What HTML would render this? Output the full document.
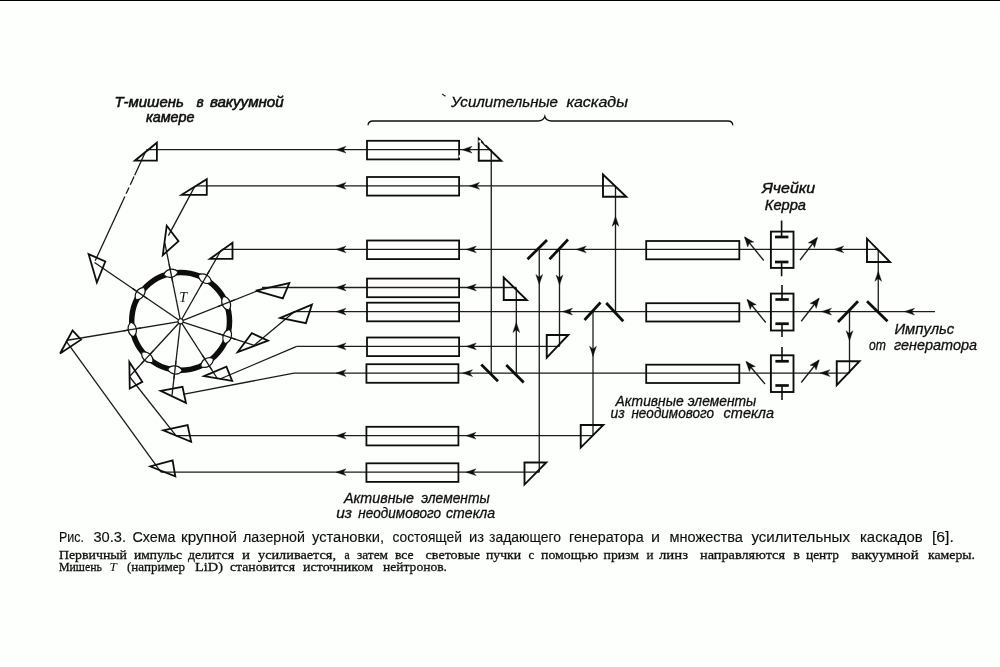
<!DOCTYPE html>
<html lang="ru"><head><meta charset="utf-8"><title>Рис. 30.3</title>
<style>
html,body{margin:0;padding:0;background:#fdfffd;}
body{width:1000px;height:667px;overflow:hidden;position:relative;font-family:"Liberation Serif",serif;}
svg{position:absolute;left:0;top:0;display:block}
</style></head><body>
<svg width="1000" height="667" viewBox="0 0 1000 667">
<rect x="0" y="0" width="1000" height="667" fill="#fdfffd"/>
<rect x="0" y="0" width="1000" height="1" fill="#000"/>
<defs><filter id="soft" x="0" y="0" width="1000" height="667" filterUnits="userSpaceOnUse"><feGaussianBlur stdDeviation="0.42"/></filter></defs>
<g filter="url(#soft)">
<g id="beams" stroke-linecap="butt">
<line x1="146.30" y1="149.70" x2="491.25" y2="149.70" stroke="#1a1a1a" stroke-width="1.3" />
<line x1="196.00" y1="185.90" x2="615.50" y2="185.90" stroke="#1a1a1a" stroke-width="1.3" />
<line x1="221.70" y1="249.40" x2="878.25" y2="249.40" stroke="#1a1a1a" stroke-width="1.3" />
<line x1="262.00" y1="287.50" x2="516.30" y2="287.50" stroke="#1a1a1a" stroke-width="1.3" />
<line x1="294.30" y1="311.60" x2="935.00" y2="311.60" stroke="#1a1a1a" stroke-width="1.3" />
<line x1="296.70" y1="346.40" x2="559.50" y2="346.40" stroke="#1a1a1a" stroke-width="1.3" />
<line x1="294.00" y1="373.10" x2="849.50" y2="373.10" stroke="#1a1a1a" stroke-width="1.3" />
<line x1="176.00" y1="435.70" x2="593.00" y2="435.70" stroke="#1a1a1a" stroke-width="1.3" />
<line x1="161.00" y1="472.20" x2="539.25" y2="472.20" stroke="#1a1a1a" stroke-width="1.3" />
<line x1="491.25" y1="149.70" x2="491.25" y2="373.10" stroke="#1a1a1a" stroke-width="1.3" />
<line x1="516.30" y1="287.50" x2="516.30" y2="373.10" stroke="#1a1a1a" stroke-width="1.3" />
<line x1="539.25" y1="249.40" x2="539.25" y2="472.20" stroke="#1a1a1a" stroke-width="1.3" />
<line x1="559.50" y1="249.40" x2="559.50" y2="346.40" stroke="#1a1a1a" stroke-width="1.3" />
<line x1="593.00" y1="311.60" x2="593.00" y2="435.70" stroke="#1a1a1a" stroke-width="1.3" />
<line x1="615.50" y1="185.90" x2="615.50" y2="311.60" stroke="#1a1a1a" stroke-width="1.3" />
<line x1="878.25" y1="249.40" x2="878.25" y2="311.60" stroke="#1a1a1a" stroke-width="1.3" />
<line x1="849.50" y1="311.60" x2="849.50" y2="373.10" stroke="#1a1a1a" stroke-width="1.3" />
</g>
<g id="rays">
<path d="M145.6 151.6 L95.2 260.8" stroke="#1a1a1a" stroke-width="1.3" fill="none" stroke-dasharray="26 1.5 9 3 7 3 100"/>
<line x1="94.50" y1="262.50" x2="180.60" y2="321.30" stroke="#1a1a1a" stroke-width="1.3" />
<line x1="194.80" y1="186.40" x2="168.40" y2="235.60" stroke="#1a1a1a" stroke-width="1.3" />
<line x1="164.80" y1="242.80" x2="180.60" y2="321.30" stroke="#1a1a1a" stroke-width="1.3" />
<line x1="221.20" y1="250.00" x2="180.60" y2="321.30" stroke="#1a1a1a" stroke-width="1.3" />
<line x1="262.00" y1="289.00" x2="180.60" y2="321.30" stroke="#1a1a1a" stroke-width="1.3" />
<line x1="294.30" y1="311.80" x2="254.20" y2="345.30" stroke="#1a1a1a" stroke-width="1.3" />
<line x1="254.20" y1="345.30" x2="180.60" y2="321.30" stroke="#1a1a1a" stroke-width="1.3" />
<line x1="296.70" y1="346.40" x2="220.00" y2="379.00" stroke="#1a1a1a" stroke-width="1.3" />
<line x1="217.00" y1="378.00" x2="180.60" y2="321.30" stroke="#1a1a1a" stroke-width="1.3" />
<line x1="294.00" y1="373.10" x2="183.00" y2="394.30" stroke="#1a1a1a" stroke-width="1.3" />
<line x1="172.00" y1="395.40" x2="180.60" y2="321.30" stroke="#1a1a1a" stroke-width="1.3" />
<line x1="176.00" y1="435.70" x2="129.80" y2="377.00" stroke="#1a1a1a" stroke-width="1.3" />
<line x1="129.80" y1="376.20" x2="180.60" y2="321.30" stroke="#1a1a1a" stroke-width="1.3" />
<line x1="161.00" y1="472.20" x2="66.00" y2="340.90" stroke="#1a1a1a" stroke-width="1.3" />
<line x1="66.00" y1="340.50" x2="180.60" y2="321.30" stroke="#1a1a1a" stroke-width="1.3" />
</g>
<g id="ring">
<circle cx="180.6" cy="321.3" r="48.9" fill="none" stroke="#111" stroke-width="5.5"/>
<g transform="translate(140.14 293.67) rotate(-55.67)"><path d="M-7.4 0 C-4.2 -5.4 4.2 -5.4 7.4 0 C4.2 5.4 -4.2 5.4 -7.4 0 Z" fill="#fdfffd" stroke="#111" stroke-width="1.2"/></g>
<g transform="translate(170.93 273.26) rotate(-11.38)"><path d="M-7.4 0 C-4.2 -5.4 4.2 -5.4 7.4 0 C4.2 5.4 -4.2 5.4 -7.4 0 Z" fill="#fdfffd" stroke="#111" stroke-width="1.2"/></g>
<g transform="translate(204.85 278.72) rotate(29.66)"><path d="M-7.4 0 C-4.2 -5.4 4.2 -5.4 7.4 0 C4.2 5.4 -4.2 5.4 -7.4 0 Z" fill="#fdfffd" stroke="#111" stroke-width="1.2"/></g>
<g transform="translate(226.15 303.23) rotate(68.36)"><path d="M-7.4 0 C-4.2 -5.4 4.2 -5.4 7.4 0 C4.2 5.4 -4.2 5.4 -7.4 0 Z" fill="#fdfffd" stroke="#111" stroke-width="1.2"/></g>
<g transform="translate(227.19 336.49) rotate(108.06)"><path d="M-7.4 0 C-4.2 -5.4 4.2 -5.4 7.4 0 C4.2 5.4 -4.2 5.4 -7.4 0 Z" fill="#fdfffd" stroke="#111" stroke-width="1.2"/></g>
<g transform="translate(207.07 362.53) rotate(147.30)"><path d="M-7.4 0 C-4.2 -5.4 4.2 -5.4 7.4 0 C4.2 5.4 -4.2 5.4 -7.4 0 Z" fill="#fdfffd" stroke="#111" stroke-width="1.2"/></g>
<g transform="translate(174.95 369.97) rotate(186.62)"><path d="M-7.4 0 C-4.2 -5.4 4.2 -5.4 7.4 0 C4.2 5.4 -4.2 5.4 -7.4 0 Z" fill="#fdfffd" stroke="#111" stroke-width="1.2"/></g>
<g transform="translate(147.32 357.27) rotate(222.78)"><path d="M-7.4 0 C-4.2 -5.4 4.2 -5.4 7.4 0 C4.2 5.4 -4.2 5.4 -7.4 0 Z" fill="#fdfffd" stroke="#111" stroke-width="1.2"/></g>
<g transform="translate(132.27 329.40) rotate(260.49)"><path d="M-7.4 0 C-4.2 -5.4 4.2 -5.4 7.4 0 C4.2 5.4 -4.2 5.4 -7.4 0 Z" fill="#fdfffd" stroke="#111" stroke-width="1.2"/></g>
</g>
<g id="rays2">
<line x1="147.57" y1="298.74" x2="132.70" y2="288.59" stroke="#1a1a1a" stroke-width="1.3" />
<line x1="172.71" y1="282.09" x2="169.16" y2="264.44" stroke="#1a1a1a" stroke-width="1.3" />
<line x1="200.39" y1="286.54" x2="209.30" y2="270.90" stroke="#1a1a1a" stroke-width="1.3" />
<line x1="217.78" y1="306.55" x2="234.51" y2="299.91" stroke="#1a1a1a" stroke-width="1.3" />
<line x1="218.63" y1="333.70" x2="235.74" y2="339.28" stroke="#1a1a1a" stroke-width="1.3" />
<line x1="202.21" y1="354.96" x2="211.93" y2="370.11" stroke="#1a1a1a" stroke-width="1.3" />
<line x1="175.99" y1="361.03" x2="173.91" y2="378.91" stroke="#1a1a1a" stroke-width="1.3" />
<line x1="153.43" y1="350.66" x2="141.21" y2="363.87" stroke="#1a1a1a" stroke-width="1.3" />
<line x1="141.15" y1="327.91" x2="123.40" y2="330.88" stroke="#1a1a1a" stroke-width="1.3" />
</g>
<circle cx="180.6" cy="321.3" r="2.6" fill="#fdfffd" stroke="#111" stroke-width="1.1"/>
<g id="prismsL">
<polygon points="156.90,142.70 156.90,160.70 134.80,160.70" fill="none" stroke="#111" stroke-width="1.8" stroke-linejoin="miter"/>
<polygon points="206.80,179.20 206.80,194.80 181.60,194.80" fill="none" stroke="#111" stroke-width="1.8" stroke-linejoin="miter"/>
<polygon points="166.73,225.75 178.50,241.10 162.79,255.20" fill="none" stroke="#111" stroke-width="1.8" stroke-linejoin="miter"/>
<polygon points="232.50,242.80 232.50,258.90 209.90,258.90" fill="none" stroke="#111" stroke-width="1.8" stroke-linejoin="miter"/>
<polygon points="88.60,254.09 105.30,261.50 96.85,282.49" fill="none" stroke="#111" stroke-width="1.8" stroke-linejoin="miter"/>
<polygon points="255.85,290.73 289.33,283.00 282.80,298.40" fill="none" stroke="#111" stroke-width="1.8" stroke-linejoin="miter"/>
<polygon points="280.28,317.84 311.93,304.64 305.90,323.10" fill="none" stroke="#111" stroke-width="1.8" stroke-linejoin="miter"/>
<polygon points="237.72,352.04 251.80,333.20 268.01,340.70" fill="none" stroke="#111" stroke-width="1.8" stroke-linejoin="miter"/>
<polygon points="204.10,376.13 226.40,366.60 232.15,380.89" fill="none" stroke="#111" stroke-width="1.8" stroke-linejoin="miter"/>
<polygon points="160.68,390.78 182.50,386.80 185.95,402.83" fill="none" stroke="#111" stroke-width="1.8" stroke-linejoin="miter"/>
<polygon points="129.35,361.91 142.30,381.80 129.76,388.44" fill="none" stroke="#111" stroke-width="1.8" stroke-linejoin="miter"/>
<polygon points="72.51,330.48 81.00,339.70 60.10,353.54" fill="none" stroke="#111" stroke-width="1.8" stroke-linejoin="miter"/>
<polygon points="163.17,430.34 187.60,425.00 191.15,441.83" fill="none" stroke="#111" stroke-width="1.8" stroke-linejoin="miter"/>
<polygon points="150.36,466.48 172.60,460.30 175.30,476.32" fill="none" stroke="#111" stroke-width="1.8" stroke-linejoin="miter"/>
</g>
<g id="rects">
<rect x="367.00" y="140.80" width="92.10" height="18.60" fill="none" stroke="#111" stroke-width="1.8"/>
<rect x="367.00" y="177.00" width="92.10" height="18.60" fill="none" stroke="#111" stroke-width="1.8"/>
<rect x="367.00" y="240.50" width="92.10" height="18.60" fill="none" stroke="#111" stroke-width="1.8"/>
<rect x="367.00" y="278.60" width="92.10" height="18.60" fill="none" stroke="#111" stroke-width="1.8"/>
<rect x="367.00" y="302.70" width="92.10" height="18.60" fill="none" stroke="#111" stroke-width="1.8"/>
<rect x="367.00" y="337.50" width="92.10" height="18.60" fill="none" stroke="#111" stroke-width="1.8"/>
<rect x="366.40" y="364.20" width="92.00" height="18.60" fill="none" stroke="#111" stroke-width="1.8"/>
<rect x="366.40" y="426.80" width="92.00" height="18.60" fill="none" stroke="#111" stroke-width="1.8"/>
<rect x="366.40" y="463.30" width="92.00" height="18.60" fill="none" stroke="#111" stroke-width="1.8"/>
<rect x="646.20" y="241.00" width="93.10" height="18.30" fill="none" stroke="#111" stroke-width="1.8"/>
<rect x="646.20" y="303.20" width="93.10" height="18.30" fill="none" stroke="#111" stroke-width="1.8"/>
<rect x="646.20" y="364.70" width="93.10" height="18.30" fill="none" stroke="#111" stroke-width="1.8"/>
</g>
<g id="prismsR">
<polygon points="478.75,138.70 478.75,160.75 501.30,160.75" fill="none" stroke="#111" stroke-width="1.9" stroke-linejoin="miter"/>
<polygon points="503.75,277.45 503.75,300.00 526.80,300.00" fill="none" stroke="#111" stroke-width="1.9" stroke-linejoin="miter"/>
<polygon points="603.00,174.45 603.00,196.75 626.30,196.75" fill="none" stroke="#111" stroke-width="1.9" stroke-linejoin="miter"/>
<polygon points="546.75,335.00 568.30,335.00 546.75,357.55" fill="none" stroke="#111" stroke-width="1.9" stroke-linejoin="miter"/>
<polygon points="580.75,425.00 603.30,425.00 580.75,447.55" fill="none" stroke="#111" stroke-width="1.9" stroke-linejoin="miter"/>
<polygon points="524.50,462.50 546.30,462.50 524.50,484.55" fill="none" stroke="#111" stroke-width="1.9" stroke-linejoin="miter"/>
<polygon points="867.00,238.70 867.00,262.00 890.05,262.00" fill="none" stroke="#111" stroke-width="1.9" stroke-linejoin="miter"/>
<polygon points="836.75,361.25 859.55,361.25 836.75,385.05" fill="none" stroke="#111" stroke-width="1.9" stroke-linejoin="miter"/>
</g>
<g id="mirrors">
<line x1="527.50" y1="259.25" x2="547.00" y2="240.00" stroke="#0a0a0a" stroke-width="2.7" />
<line x1="549.50" y1="259.25" x2="568.00" y2="239.50" stroke="#0a0a0a" stroke-width="2.7" />
<line x1="584.50" y1="320.00" x2="600.50" y2="302.50" stroke="#0a0a0a" stroke-width="2.7" />
<line x1="606.25" y1="303.00" x2="623.25" y2="321.25" stroke="#0a0a0a" stroke-width="2.7" />
<line x1="481.25" y1="364.50" x2="498.00" y2="381.25" stroke="#0a0a0a" stroke-width="2.7" />
<line x1="506.25" y1="365.00" x2="523.75" y2="382.50" stroke="#0a0a0a" stroke-width="2.7" />
<line x1="838.00" y1="322.00" x2="858.00" y2="301.25" stroke="#0a0a0a" stroke-width="2.7" />
<line x1="867.00" y1="301.25" x2="887.50" y2="321.25" stroke="#0a0a0a" stroke-width="2.7" />
</g>
<g id="kerr">
<rect x="770.90" y="231.60" width="22.60" height="36.30" fill="none" stroke="#111" stroke-width="1.9"/>
<line x1="781.60" y1="220.50" x2="781.60" y2="237.00" stroke="#111" stroke-width="1.6" />
<line x1="775.00" y1="237.00" x2="788.40" y2="237.00" stroke="#0a0a0a" stroke-width="2.7" />
<line x1="775.00" y1="262.00" x2="788.40" y2="262.00" stroke="#0a0a0a" stroke-width="2.7" />
<line x1="781.60" y1="262.00" x2="781.60" y2="276.25" stroke="#111" stroke-width="1.6" />
<rect x="770.90" y="293.60" width="22.60" height="36.90" fill="none" stroke="#111" stroke-width="1.9"/>
<line x1="782.00" y1="285.00" x2="782.00" y2="299.50" stroke="#111" stroke-width="1.6" />
<line x1="775.40" y1="299.50" x2="788.80" y2="299.50" stroke="#0a0a0a" stroke-width="2.7" />
<line x1="775.40" y1="323.75" x2="788.80" y2="323.75" stroke="#0a0a0a" stroke-width="2.7" />
<line x1="782.00" y1="323.75" x2="782.00" y2="337.00" stroke="#111" stroke-width="1.6" />
<rect x="770.90" y="355.30" width="22.60" height="36.70" fill="none" stroke="#111" stroke-width="1.9"/>
<line x1="782.00" y1="347.00" x2="782.00" y2="361.25" stroke="#111" stroke-width="1.6" />
<line x1="775.40" y1="361.25" x2="788.80" y2="361.25" stroke="#0a0a0a" stroke-width="2.7" />
<line x1="775.40" y1="385.50" x2="788.80" y2="385.50" stroke="#0a0a0a" stroke-width="2.7" />
<line x1="782.00" y1="385.50" x2="782.00" y2="400.00" stroke="#111" stroke-width="1.6" />
<line x1="763.75" y1="260.50" x2="745.00" y2="237.50" stroke="#1a1a1a" stroke-width="1.3" />
<polygon points="744.44,236.81 747.73,247.03 749.37,242.86 753.78,242.10" fill="#111" stroke="#111" stroke-width="0.4"/>
<line x1="800.00" y1="260.00" x2="817.00" y2="238.00" stroke="#1a1a1a" stroke-width="1.3" />
<polygon points="817.51,237.34 808.31,242.87 812.74,243.51 814.48,247.64" fill="#111" stroke="#111" stroke-width="0.4"/>
<line x1="765.75" y1="322.50" x2="747.50" y2="300.00" stroke="#1a1a1a" stroke-width="1.3" />
<polygon points="746.95,299.32 750.22,309.55 751.87,305.38 756.28,304.63" fill="#111" stroke="#111" stroke-width="0.4"/>
<line x1="801.25" y1="321.25" x2="818.75" y2="298.75" stroke="#1a1a1a" stroke-width="1.3" />
<polygon points="819.27,298.07 810.06,303.57 814.49,304.23 816.21,308.36" fill="#111" stroke="#111" stroke-width="0.4"/>
<line x1="765.00" y1="384.00" x2="746.50" y2="362.00" stroke="#1a1a1a" stroke-width="1.3" />
<polygon points="745.95,361.34 749.40,371.50 750.97,367.31 755.37,366.48" fill="#111" stroke="#111" stroke-width="0.4"/>
<line x1="801.25" y1="382.50" x2="818.75" y2="360.50" stroke="#1a1a1a" stroke-width="1.3" />
<polygon points="819.27,359.84 810.00,365.24 814.42,365.94 816.10,370.09" fill="#111" stroke="#111" stroke-width="0.4"/>
</g>
<g id="arrows">
<polygon points="336.00,149.70 346.00,153.10 343.20,149.70 346.00,146.30" fill="#111" stroke="#111" stroke-width="0.4"/>
<polygon points="336.00,185.90 346.00,189.30 343.20,185.90 346.00,182.50" fill="#111" stroke="#111" stroke-width="0.4"/>
<polygon points="336.00,249.40 346.00,252.80 343.20,249.40 346.00,246.00" fill="#111" stroke="#111" stroke-width="0.4"/>
<polygon points="336.00,287.50 346.00,290.90 343.20,287.50 346.00,284.10" fill="#111" stroke="#111" stroke-width="0.4"/>
<polygon points="336.00,311.60 346.00,315.00 343.20,311.60 346.00,308.20" fill="#111" stroke="#111" stroke-width="0.4"/>
<polygon points="336.00,346.40 346.00,349.80 343.20,346.40 346.00,343.00" fill="#111" stroke="#111" stroke-width="0.4"/>
<polygon points="336.00,373.10 346.00,376.50 343.20,373.10 346.00,369.70" fill="#111" stroke="#111" stroke-width="0.4"/>
<polygon points="336.00,435.70 346.00,439.10 343.20,435.70 346.00,432.30" fill="#111" stroke="#111" stroke-width="0.4"/>
<polygon points="336.00,472.20 346.00,475.60 343.20,472.20 346.00,468.80" fill="#111" stroke="#111" stroke-width="0.4"/>
<polygon points="462.00,149.70 472.00,153.10 469.20,149.70 472.00,146.30" fill="#111" stroke="#111" stroke-width="0.4"/>
<polygon points="469.50,185.90 479.50,189.30 476.70,185.90 479.50,182.50" fill="#111" stroke="#111" stroke-width="0.4"/>
<polygon points="466.25,249.40 476.25,252.80 473.45,249.40 476.25,246.00" fill="#111" stroke="#111" stroke-width="0.4"/>
<polygon points="466.25,287.50 476.25,290.90 473.45,287.50 476.25,284.10" fill="#111" stroke="#111" stroke-width="0.4"/>
<polygon points="466.25,346.40 476.25,349.80 473.45,346.40 476.25,343.00" fill="#111" stroke="#111" stroke-width="0.4"/>
<polygon points="462.50,373.10 472.50,376.50 469.70,373.10 472.50,369.70" fill="#111" stroke="#111" stroke-width="0.4"/>
<polygon points="466.00,435.70 476.00,439.10 473.20,435.70 476.00,432.30" fill="#111" stroke="#111" stroke-width="0.4"/>
<polygon points="466.00,472.20 476.00,475.60 473.20,472.20 476.00,468.80" fill="#111" stroke="#111" stroke-width="0.4"/>
<polygon points="576.25,249.40 586.25,252.80 583.45,249.40 586.25,246.00" fill="#111" stroke="#111" stroke-width="0.4"/>
<polygon points="562.50,311.60 572.50,315.00 569.70,311.60 572.50,308.20" fill="#111" stroke="#111" stroke-width="0.4"/>
<polygon points="833.75,249.40 843.75,252.80 840.95,249.40 843.75,246.00" fill="#111" stroke="#111" stroke-width="0.4"/>
<polygon points="821.50,311.60 831.50,315.00 828.70,311.60 831.50,308.20" fill="#111" stroke="#111" stroke-width="0.4"/>
<polygon points="904.50,311.60 914.50,315.00 911.70,311.60 914.50,308.20" fill="#111" stroke="#111" stroke-width="0.4"/>
<polygon points="820.00,373.10 830.00,376.50 827.20,373.10 830.00,369.70" fill="#111" stroke="#111" stroke-width="0.4"/>
<polygon points="539.25,284.50 542.65,274.50 539.25,277.30 535.85,274.50" fill="#111" stroke="#111" stroke-width="0.4"/>
<polygon points="559.50,285.00 562.90,275.00 559.50,277.80 556.10,275.00" fill="#111" stroke="#111" stroke-width="0.4"/>
<polygon points="516.30,322.50 512.90,332.50 516.30,329.70 519.70,332.50" fill="#111" stroke="#111" stroke-width="0.4"/>
<polygon points="615.50,216.25 612.10,226.25 615.50,223.45 618.90,226.25" fill="#111" stroke="#111" stroke-width="0.4"/>
<polygon points="593.00,356.25 596.40,346.25 593.00,349.05 589.60,346.25" fill="#111" stroke="#111" stroke-width="0.4"/>
<polygon points="878.25,271.25 874.85,281.25 878.25,278.45 881.65,281.25" fill="#111" stroke="#111" stroke-width="0.4"/>
<polygon points="849.50,340.75 852.90,330.75 849.50,333.55 846.10,330.75" fill="#111" stroke="#111" stroke-width="0.4"/>
</g>
<path d="M368 125.3 Q368.3 121 373 121 L538 121 Q543.5 121 544.8 116.4 Q546 121 551.5 121 L728 121 Q732.6 121 732.8 125.3" fill="none" stroke="#111" stroke-width="1.3"/>
<path d="M484.4 141.6 L486.4 144.2 M479.7 140.2 L479.7 142.6 M460 155.2 L460 157.6" stroke="#fdfffd" stroke-width="2.6"/>
<path d="M442 94 l3.6 2.2" stroke="#222" stroke-width="1.2"/>
<g font-family="'Liberation Sans', sans-serif" font-size="14.2" font-style="italic" fill="#111" stroke="#111" stroke-width="0.55">
<text x="114.5" y="107.1" textLength="69.3" lengthAdjust="spacingAndGlyphs">Т-мишень</text>
<text x="196.4" y="107.1" textLength="7.2" lengthAdjust="spacingAndGlyphs">в</text>
<text x="209.9" y="107.1" textLength="73.8" lengthAdjust="spacingAndGlyphs">вакуумной</text>
</g>
<g font-family="'Liberation Sans', sans-serif" font-size="14.2" font-style="italic" fill="#111" stroke="#111" stroke-width="0.55">
<text x="146" y="122" textLength="48.6" lengthAdjust="spacingAndGlyphs">камере</text>
</g>
<g font-family="'Liberation Sans', sans-serif" font-size="13.8" font-style="italic" fill="#111" stroke="#111" stroke-width="0.3">
<text x="451" y="107" textLength="107.0" lengthAdjust="spacingAndGlyphs">Усилительные</text>
<text x="566.4" y="107" textLength="61.6" lengthAdjust="spacingAndGlyphs">каскады</text>
</g>
<g font-family="'Liberation Sans', sans-serif" font-size="13.8" font-style="italic" fill="#111" stroke="#111" stroke-width="0.4">
<text x="762" y="192.6" textLength="53.2" lengthAdjust="spacingAndGlyphs">Ячейки</text>
</g>
<g font-family="'Liberation Sans', sans-serif" font-size="13.8" font-style="italic" fill="#111" stroke="#111" stroke-width="0.4">
<text x="764.8" y="210.2" textLength="41.2" lengthAdjust="spacingAndGlyphs">Керра</text>
</g>
<g font-family="'Liberation Sans', sans-serif" font-size="13.8" font-style="italic" fill="#111" stroke="#111" stroke-width="0.3">
<text x="894.5" y="334" textLength="59.8" lengthAdjust="spacingAndGlyphs">Импульс</text>
</g>
<g font-family="'Liberation Sans', sans-serif" font-size="13.8" font-style="italic" fill="#111" stroke="#111" stroke-width="0.3">
<text x="869.1" y="349.5" textLength="16.9" lengthAdjust="spacingAndGlyphs">от</text>
<text x="894" y="349.5" textLength="83.0" lengthAdjust="spacingAndGlyphs">генератора</text>
</g>
<g font-family="'Liberation Sans', sans-serif" font-size="13.8" font-style="italic" fill="#111" stroke="#111" stroke-width="0.3">
<text x="615.6" y="405.5" textLength="68.1" lengthAdjust="spacingAndGlyphs">Активные</text>
<text x="687.8" y="405.5" textLength="68.5" lengthAdjust="spacingAndGlyphs">элементы</text>
</g>
<g font-family="'Liberation Sans', sans-serif" font-size="13.8" font-style="italic" fill="#111" stroke="#111" stroke-width="0.3">
<text x="610.5" y="417.7" textLength="14.2" lengthAdjust="spacingAndGlyphs">из</text>
<text x="631.4" y="417.7" textLength="82.6" lengthAdjust="spacingAndGlyphs">неодимового</text>
<text x="723.6" y="417.7" textLength="50.4" lengthAdjust="spacingAndGlyphs">стекла</text>
</g>
<g font-family="'Liberation Sans', sans-serif" font-size="13.8" font-style="italic" fill="#111" stroke="#111" stroke-width="0.3">
<text x="343.9" y="502.6" textLength="70.2" lengthAdjust="spacingAndGlyphs">Активные</text>
<text x="421.3" y="502.6" textLength="68.4" lengthAdjust="spacingAndGlyphs">элементы</text>
</g>
<g font-family="'Liberation Sans', sans-serif" font-size="13.8" font-style="italic" fill="#111" stroke="#111" stroke-width="0.3">
<text x="336.2" y="517.8" textLength="15.8" lengthAdjust="spacingAndGlyphs">из</text>
<text x="358.3" y="517.8" textLength="82.8" lengthAdjust="spacingAndGlyphs">неодимового</text>
<text x="446" y="517.8" textLength="49.1" lengthAdjust="spacingAndGlyphs">стекла</text>
</g>
<text x="179.3" y="301.7" font-family="'Liberation Serif', serif" font-size="14" font-style="italic" font-weight="normal" fill="#111" >T</text>
<g font-family="'Liberation Sans', sans-serif" font-size="15.2" fill="#111" stroke="#111" stroke-width="0.15">
<text x="59" y="542.4" textLength="25.0" lengthAdjust="spacingAndGlyphs">Рис.</text>
<text x="93.4" y="542.4" textLength="32.6" lengthAdjust="spacingAndGlyphs">30.3.</text>
<text x="132.4" y="542.4" textLength="43.2" lengthAdjust="spacingAndGlyphs">Схема</text>
<text x="181" y="542.4" textLength="56.0" lengthAdjust="spacingAndGlyphs">крупной</text>
<text x="243" y="542.4" textLength="62.0" lengthAdjust="spacingAndGlyphs">лазерной</text>
<text x="312" y="542.4" textLength="72.0" lengthAdjust="spacingAndGlyphs">установки,</text>
<text x="392.4" y="542.4" textLength="69.6" lengthAdjust="spacingAndGlyphs">состоящей</text>
<text x="469" y="542.4" textLength="15.0" lengthAdjust="spacingAndGlyphs">из</text>
<text x="489" y="542.4" textLength="72.0" lengthAdjust="spacingAndGlyphs">задающего</text>
<text x="569" y="542.4" textLength="74.6" lengthAdjust="spacingAndGlyphs">генератора</text>
<text x="651" y="542.4" textLength="9.0" lengthAdjust="spacingAndGlyphs">и</text>
<text x="669.4" y="542.4" textLength="73.6" lengthAdjust="spacingAndGlyphs">множества</text>
<text x="751.4" y="542.4" textLength="98.6" lengthAdjust="spacingAndGlyphs">усилительных</text>
<text x="860" y="542.4" textLength="62.6" lengthAdjust="spacingAndGlyphs">каскадов</text>
<text x="931.9" y="542.4" textLength="22.0" lengthAdjust="spacingAndGlyphs">[6].</text>
</g>
<g font-family="'Liberation Serif', serif" font-size="13.2" fill="#111" stroke="#111" stroke-width="0.3">
<text x="59" y="559.2" textLength="68.0" lengthAdjust="spacingAndGlyphs">Первичный</text>
<text x="134" y="559.2" textLength="48.0" lengthAdjust="spacingAndGlyphs">импульс</text>
<text x="188" y="559.2" textLength="46.0" lengthAdjust="spacingAndGlyphs">делится</text>
<text x="242" y="559.2" textLength="8.0" lengthAdjust="spacingAndGlyphs">и</text>
<text x="258" y="559.2" textLength="78.0" lengthAdjust="spacingAndGlyphs">усиливается,</text>
<text x="344.4" y="559.2" textLength="5.2" lengthAdjust="spacingAndGlyphs">а</text>
<text x="357" y="559.2" textLength="31.0" lengthAdjust="spacingAndGlyphs">затем</text>
<text x="395" y="559.2" textLength="18.6" lengthAdjust="spacingAndGlyphs">все</text>
<text x="425.6" y="559.2" textLength="54.4" lengthAdjust="spacingAndGlyphs">световые</text>
<text x="486" y="559.2" textLength="35.0" lengthAdjust="spacingAndGlyphs">пучки</text>
<text x="528.4" y="559.2" textLength="5.6" lengthAdjust="spacingAndGlyphs">с</text>
<text x="541" y="559.2" textLength="57.0" lengthAdjust="spacingAndGlyphs">помощью</text>
<text x="603.6" y="559.2" textLength="35.4" lengthAdjust="spacingAndGlyphs">призм</text>
<text x="646.6" y="559.2" textLength="7.0" lengthAdjust="spacingAndGlyphs">и</text>
<text x="659" y="559.2" textLength="29.0" lengthAdjust="spacingAndGlyphs">линз</text>
<text x="700" y="559.2" textLength="85.0" lengthAdjust="spacingAndGlyphs">направляются</text>
<text x="793.6" y="559.2" textLength="6.4" lengthAdjust="spacingAndGlyphs">в</text>
<text x="806" y="559.2" textLength="33.0" lengthAdjust="spacingAndGlyphs">центр</text>
<text x="851.4" y="559.2" textLength="67.2" lengthAdjust="spacingAndGlyphs">вакуумной</text>
<text x="928" y="559.2" textLength="47.0" lengthAdjust="spacingAndGlyphs">камеры.</text>
</g>
<g font-family="'Liberation Serif', serif" font-size="13.2" fill="#111" stroke="#111" stroke-width="0.3">
<text x="59" y="570.8" textLength="43.0" lengthAdjust="spacingAndGlyphs">Мишень</text>
<text x="127" y="570.8" textLength="58.0" lengthAdjust="spacingAndGlyphs">(например</text>
<text x="195" y="570.8" textLength="28.0" lengthAdjust="spacingAndGlyphs">LiD)</text>
<text x="230" y="570.8" textLength="65.0" lengthAdjust="spacingAndGlyphs">становится</text>
<text x="303" y="570.8" textLength="70.0" lengthAdjust="spacingAndGlyphs">источником</text>
<text x="383" y="570.8" textLength="64.0" lengthAdjust="spacingAndGlyphs">нейтронов.</text>
</g>
<text x="109.5" y="570.8" font-family="'Liberation Serif', serif" font-size="13.2" font-style="italic" fill="#111">T</text>
</g>
</svg>
</body></html>
